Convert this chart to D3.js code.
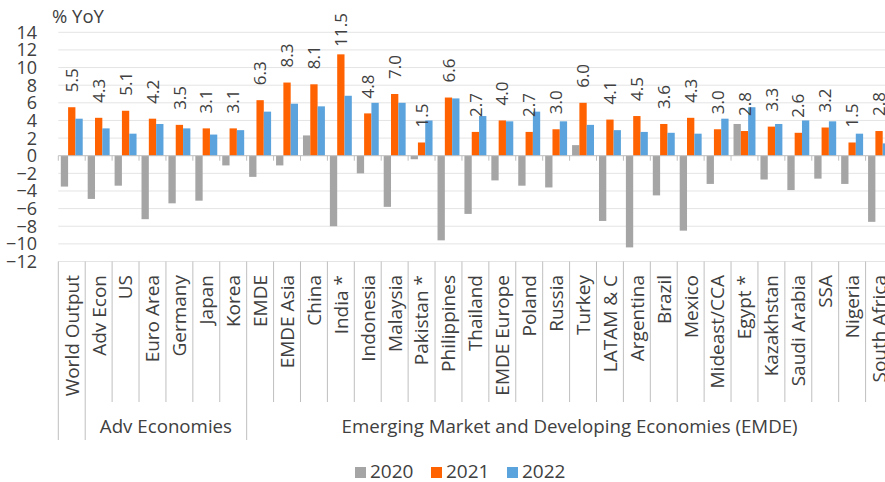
<!DOCTYPE html>
<html>
<head>
<meta charset="utf-8">
<script src="https://cdn.jsdelivr.net/npm/d3@7/dist/d3.min.js"></script>
<style>
  body { margin: 0; background: #fff; }
  text { font-family: "Open Sans", sans-serif; fill: #404040; }
</style>
</head>
<body>
<div id="chart"></div>
<script>
// data (% YoY)
const categories = ["World Output", "Adv Econ", "US", "Euro Area", "Germany", "Japan", "Korea",
  "EMDE", "EMDE Asia", "China", "India *", "Indonesia", "Malaysia", "Pakistan *", "Philippines",
  "Thailand", "EMDE Europe", "Poland", "Russia", "Turkey", "LATAM & C", "Argentina", "Brazil",
  "Mexico", "Mideast/CCA", "Egypt *", "Kazakhstan", "Saudi Arabia", "SSA", "Nigeria", "South Africa"];
const values2020 = [-3.5, -4.9, -3.4, -7.2, -5.4, -5.1, -1.1,
  -2.4, -1.1, 2.3, -8.0, -2.0, -5.8, -0.4, -9.6,
  -6.6, -2.8, -3.4, -3.6, 1.2, -7.4, -10.4, -4.5,
  -8.5, -3.2, 3.6, -2.7, -3.9, -2.6, -3.2, -7.5];
const values2021 = [5.5, 4.3, 5.1, 4.2, 3.5, 3.1, 3.1,
  6.3, 8.3, 8.1, 11.5, 4.8, 7.0, 1.5, 6.6,
  2.7, 4.0, 2.7, 3.0, 6.0, 4.1, 4.5, 3.6,
  4.3, 3.0, 2.8, 3.3, 2.6, 3.2, 1.5, 2.8];
const values2022 = [4.2, 3.1, 2.5, 3.6, 3.1, 2.4, 2.9,
  5.0, 5.9, 5.6, 6.8, 6.0, 6.0, 4.0, 6.5,
  4.5, 3.9, 5.0, 3.9, 3.5, 2.9, 2.7, 2.6,
  2.5, 4.2, 5.5, 3.6, 4.0, 3.9, 2.5, 1.4];
const seriesNames = ["2020", "2021", "2022"];
const yTicks = [-12, -10, -8, -6, -4, -2, 0, 2, 4, 6, 8, 10, 12, 14];
// category index ranges of the two groups
const groupNames = ["Adv Economies", "Emerging Market and Developing Economies (EMDE)"];
const groupStart = [1, 7];
const groupEnd = [7, 31];

const width = 885, height = 482;
const colors = { "2020": "#a5a5a5", "2021": "#ff6200", "2022": "#5ba3dc" };
const gridColor = "#e4e4e4", axisColor = "#bfbfbf";

const svg = d3.select("#chart").append("svg")
  .attr("width", width)
  .attr("height", height);

const x = d3.scaleBand()
  .domain(categories)
  .range([58.3, 892.5]);

const xs = d3.scaleBand()
  .domain(seriesNames)
  .range([0, x.bandwidth()])
  .paddingOuter(0.34);

const y = d3.scaleLinear()
  .domain([-12, 14])
  .range([261.5, 32.3]);

const rows = categories.map((c, i) => ({
  cat: c,
  vals: [
    { s: "2020", v: values2020[i] },
    { s: "2021", v: values2021[i] },
    { s: "2022", v: values2022[i] }
  ]
}));

// gridlines
svg.append("g")
  .selectAll("line")
  .data(yTicks.filter(d => d !== 0))
  .join("line")
  .attr("x1", x.range()[0])
  .attr("x2", width)
  .attr("y1", d => y(d))
  .attr("y2", d => y(d))
  .attr("stroke", gridColor)
  .attr("stroke-width", 1);

// y tick labels
svg.append("g")
  .selectAll("text")
  .data(yTicks)
  .join("text")
  .attr("x", 37)
  .attr("y", d => y(d))
  .attr("dy", "0.36em")
  .attr("text-anchor", "end")
  .style("font-size", "18px")
  .text(d => d < 0 ? "\u2212" + Math.abs(d) : d);

svg.append("text")
  .attr("x", 52)
  .attr("y", 23)
  .style("font-size", "18.5px")
  .text("% YoY");

// bars
const groupsG = svg.append("g")
  .selectAll("g")
  .data(rows)
  .join("g")
  .attr("transform", d => `translate(${x(d.cat)},0)`);

groupsG.selectAll("rect")
  .data(d => d.vals)
  .join("rect")
  .attr("x", d => xs(d.s))
  .attr("width", xs.bandwidth())
  .attr("y", d => y(Math.max(0, d.v)))
  .attr("height", d => Math.abs(y(d.v) - y(0)))
  .attr("fill", d => colors[d.s]);

// zero axis with ticks at category boundaries
const bounds = categories.map(c => x(c));
svg.append("line")
  .attr("x1", x.range()[0])
  .attr("x2", width)
  .attr("y1", y(0))
  .attr("y2", y(0))
  .attr("stroke", axisColor);

svg.append("g")
  .selectAll("line")
  .data(bounds)
  .join("line")
  .attr("x1", d => d)
  .attr("x2", d => d)
  .attr("y1", y(0))
  .attr("y2", y(0) + 5)
  .attr("stroke", axisColor);

// 2021 value labels
const labels = svg.append("g")
  .selectAll("text")
  .data(rows)
  .join("text")
  .attr("text-anchor", "start")
  .attr("dy", "0.36em")
  .style("font-size", "17px")
  .text(d => d.vals[1].v.toFixed(1));

labels.each(function (d) {
  const len = this.getComputedTextLength();
  const cx = x(d.cat) + xs("2021") + xs.bandwidth() / 2;
  let base = y(d.vals[1].v) - 15;
  if (base - len < 13) base = 13 + len;
  d3.select(this).attr("transform", `translate(${cx},${base}) rotate(-90)`);
});

// category labels
svg.append("g")
  .selectAll("text")
  .data(categories)
  .join("text")
  .attr("text-anchor", "end")
  .attr("dy", "0.36em")
  .style("font-size", "19px")
  .attr("transform", d => `translate(${x(d) + x.bandwidth() / 2},275) rotate(-90)`)
  .text(d => d);

// separators below the axis
const longIdx = [0].concat(groupStart);
svg.append("g")
  .selectAll("line")
  .data(d3.range(categories.length + 1))
  .join("line")
  .attr("x1", i => x.range()[0] + i * x.step())
  .attr("x2", i => x.range()[0] + i * x.step())
  .attr("y1", y(-12))
  .attr("y2", i => longIdx.includes(i) || i === categories.length ? 440 : 402)
  .attr("stroke", axisColor);

// group labels
svg.append("g")
  .selectAll("text")
  .data(groupNames)
  .join("text")
  .attr("x", (d, i) => (x(categories[groupStart[i]]) + x.range()[0] + groupEnd[i] * x.step()) / 2)
  .attr("y", 433)
  .attr("text-anchor", "middle")
  .style("font-size", "18.7px")
  .text(d => d);

// legend
const legend = svg.append("g")
  .selectAll("g")
  .data(seriesNames)
  .join("g")
  .attr("transform", (d, i) => `translate(${355 + i * 76},0)`);

legend.append("rect")
  .attr("x", 0)
  .attr("y", 467)
  .attr("width", 11)
  .attr("height", 11)
  .attr("fill", d => colors[d]);

legend.append("text")
  .attr("x", 15)
  .attr("y", 478)
  .style("font-size", "19px")
  .text(d => d);
</script>
</body>
</html>
